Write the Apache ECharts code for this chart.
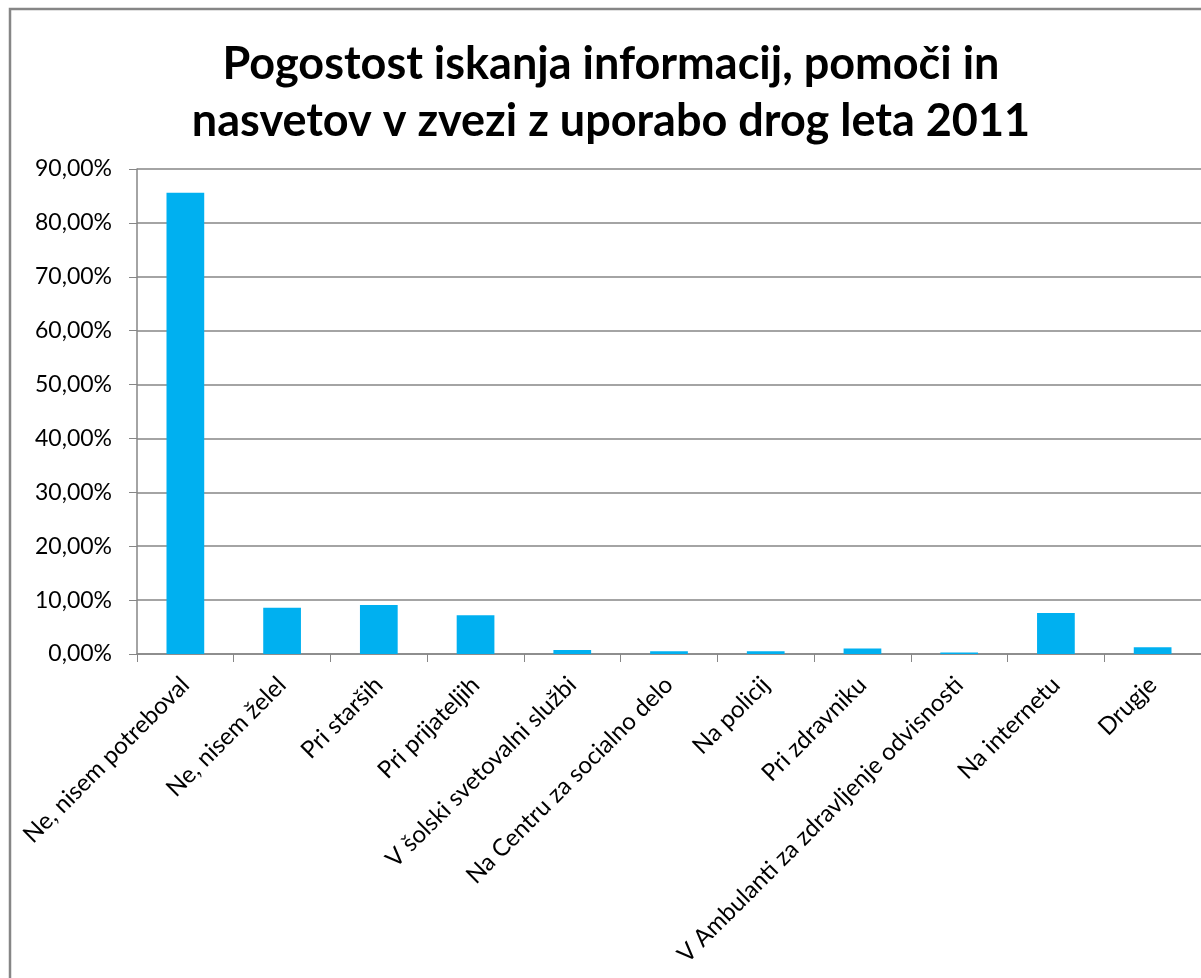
<!DOCTYPE html>
<html><head><meta charset="utf-8">
<script src="https://cdn.jsdelivr.net/npm/echarts@6/dist/echarts.min.js"></script>
<style>html,body{margin:0;padding:0;background:#fff;}#c{width:1201px;height:978px;}</style>
</head><body><div id="c"></div>
<script>
const categories = ["Ne, nisem potreboval","Ne, nisem želel","Pri starših","Pri prijateljih","V šolski svetovalni službi","Na Centru za socialno delo","Na policij","Pri zdravniku","V Ambulanti za zdravljenje odvisnosti","Na internetu","Drugje"];
const values = [85.6, 8.6, 9.1, 7.2, 0.75, 0.5, 0.5, 1.0, 0.3, 7.6, 1.25];
const titleText = "Pogostost iskanja informacij, pomoči in\nnasvetov v zvezi z uporabo drog leta 2011";
const chart = echarts.init(document.getElementById('c'), null, {renderer:'canvas'});
const font = "Lato, 'Open Sans', sans-serif";
chart.setOption({
  animation:false,
  backgroundColor:'#fff',
  graphic:[
    {type:'rect',shape:{x:10,y:9,width:1300,height:1100},style:{fill:'none',stroke:'#868686',lineWidth:2.5},z:-1},
    {type:'text',x:611,y:36,style:{text:titleText,align:'center',verticalAlign:'top',font:"bold 45px Lato, 'Open Sans', sans-serif",lineHeight:57,fill:'#000'}}
  ],
  grid:{left:137,right:-10,top:169,bottom:324,containLabel:false},
  xAxis:{type:'category',data:categories,
    axisLine:{lineStyle:{color:'#868686',width:1.5}},
    axisTick:{show:true,length:8,lineStyle:{color:'#868686'}},
    axisLabel:{rotate:45,interval:0,fontFamily:font,fontSize:24,color:'#000',margin:27}},
  yAxis:{type:'value',min:0,max:90,interval:10,
    axisLine:{show:true,lineStyle:{color:'#868686',width:1.5}},
    axisTick:{show:true,length:8,lineStyle:{color:'#868686'}},
    splitLine:{lineStyle:{color:'#868686',width:1.5}},
    axisLabel:{fontFamily:font,fontSize:23,color:'#000',margin:25,formatter:v=>v.toFixed(2).replace('.',',')+'%'}},
  series:[{type:'bar',data:values,barCategoryGap:'61%',itemStyle:{color:'#00B0F0'}}]
});
</script></body></html>
